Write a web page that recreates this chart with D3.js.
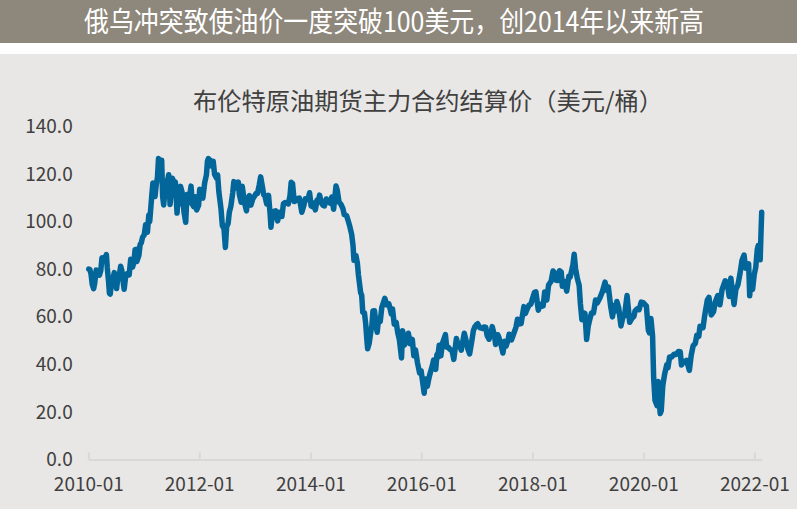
<!DOCTYPE html>
<html><head><meta charset="utf-8">
<script src="https://cdn.jsdelivr.net/npm/d3@7"></script>
<style>
html,body{margin:0;padding:0;background:#fff;}
svg{display:block;font-family:"Noto Sans CJK SC","Noto Sans",sans-serif;}
</style></head>
<body><svg id="c" width="797" height="509"></svg>
<script>
const headline = "俄乌冲突致使油价一度突破100美元，创2014年以来新高";
const chartTitle = "布伦特原油期货主力合约结算价（美元/桶）";
const yTicks = [0,20,40,60,80,100,120,140];
const xTickLabels = ["2010-01","2012-01","2014-01","2016-01","2018-01","2020-01","2022-01"];
const dates = [
"2010-01-04","2010-01-11","2010-01-19","2010-01-27","2010-02-05","2010-02-12","2010-02-22","2010-03-03","2010-03-15","2010-03-24",
"2010-04-01","2010-04-12","2010-04-21","2010-04-30","2010-05-06","2010-05-14","2010-05-20","2010-05-25","2010-06-02","2010-06-10",
"2010-06-21","2010-06-29","2010-07-06","2010-07-14","2010-07-22","2010-08-02","2010-08-10","2010-08-20","2010-08-25","2010-09-03",
"2010-09-14","2010-09-27","2010-10-07","2010-10-19","2010-10-28","2010-11-05","2010-11-11","2010-11-16","2010-11-30","2010-12-08",
"2010-12-16","2010-12-24","2011-01-04","2011-01-13","2011-01-25","2011-02-03","2011-02-09","2011-02-23","2011-03-02","2011-03-07",
"2011-03-16","2011-03-24","2011-04-01","2011-04-08","2011-04-18","2011-04-29","2011-05-05","2011-05-12","2011-05-19","2011-05-31",
"2011-06-08","2011-06-14","2011-06-23","2011-06-30","2011-07-08","2011-07-15","2011-07-28","2011-08-08","2011-08-10","2011-08-19",
"2011-08-31","2011-09-09","2011-09-23","2011-10-04","2011-10-12","2011-10-20","2011-10-28","2011-11-08","2011-11-17","2011-11-25",
"2011-12-06","2011-12-15","2011-12-28","2012-01-04","2012-01-13","2012-01-25","2012-02-06","2012-02-17","2012-02-24","2012-03-01",
"2012-03-13","2012-03-21","2012-04-02","2012-04-11","2012-04-24","2012-05-01","2012-05-09","2012-05-23","2012-06-01","2012-06-12",
"2012-06-21","2012-06-29","2012-07-09","2012-07-17","2012-07-27","2012-08-08","2012-08-16","2012-08-23","2012-09-04","2012-09-14",
"2012-09-21","2012-10-03","2012-10-10","2012-10-25","2012-11-07","2012-11-14","2012-11-26","2012-12-06","2012-12-18","2012-12-28",
"2013-01-09","2013-01-18","2013-01-30","2013-02-08","2013-02-20","2013-02-28","2013-03-08","2013-03-20","2013-04-01","2013-04-12",
"2013-04-17","2013-04-26","2013-05-08","2013-05-17","2013-05-31","2013-06-10","2013-06-20","2013-06-28","2013-07-08","2013-07-19",
"2013-07-30","2013-08-09","2013-08-20","2013-08-28","2013-09-06","2013-09-17","2013-09-26","2013-10-07","2013-10-21","2013-11-06",
"2013-11-20","2013-11-29","2013-12-09","2013-12-19","2013-12-27","2014-01-06","2014-01-13","2014-01-24","2014-02-03","2014-02-14",
"2014-02-25","2014-03-03","2014-03-14","2014-03-25","2014-04-04","2014-04-16","2014-04-29","2014-05-09","2014-05-22","2014-06-03",
"2014-06-19","2014-06-27","2014-07-09","2014-07-22","2014-08-04","2014-08-12","2014-08-28","2014-09-08","2014-09-18","2014-09-30",
"2014-10-09","2014-10-15","2014-10-28","2014-11-06","2014-11-13","2014-11-28","2014-12-05","2014-12-12","2014-12-23","2014-12-31",
"2015-01-07","2015-01-13","2015-01-23","2015-02-04","2015-02-10","2015-02-17","2015-02-27","2015-03-10","2015-03-17","2015-03-26",
"2015-04-06","2015-04-16","2015-05-06","2015-05-20","2015-06-02","2015-06-18","2015-06-26","2015-07-07","2015-07-20","2015-07-30",
"2015-08-10","2015-08-24","2015-08-31","2015-09-11","2015-09-22","2015-10-08","2015-10-20","2015-11-03","2015-11-13","2015-11-24",
"2015-12-07","2015-12-21","2015-12-31","2016-01-08","2016-01-20","2016-01-28","2016-02-10","2016-02-22","2016-03-03","2016-03-14",
"2016-03-22","2016-04-05","2016-04-13","2016-04-18","2016-04-28","2016-05-09","2016-05-19","2016-06-08","2016-06-16","2016-06-27",
"2016-07-07","2016-07-22","2016-08-02","2016-08-19","2016-08-30","2016-09-09","2016-09-20","2016-09-29","2016-10-10","2016-10-24",
"2016-11-03","2016-11-14","2016-11-30","2016-12-09","2016-12-19","2016-12-30","2017-01-06","2017-01-20","2017-02-07","2017-02-16",
"2017-02-28","2017-03-09","2017-03-22","2017-04-03","2017-04-12","2017-04-28","2017-05-04","2017-05-18","2017-05-25","2017-06-09",
"2017-06-21","2017-07-03","2017-07-12","2017-07-25","2017-08-01","2017-08-17","2017-08-31","2017-09-15","2017-09-25","2017-10-05",
"2017-10-19","2017-10-27","2017-11-06","2017-11-16","2017-11-30","2017-12-11","2017-12-22","2018-01-04","2018-01-15","2018-01-24",
"2018-02-09","2018-02-21","2018-03-02","2018-03-13","2018-03-23","2018-04-06","2018-04-18","2018-05-04","2018-05-17","2018-05-24",
"2018-06-05","2018-06-18","2018-06-29","2018-07-10","2018-07-17","2018-07-30","2018-08-15","2018-08-29","2018-09-07","2018-09-25",
"2018-10-03","2018-10-12","2018-10-23","2018-11-05","2018-11-13","2018-11-23","2018-12-03","2018-12-13","2018-12-24","2019-01-03",
"2019-01-14","2019-01-25","2019-02-07","2019-02-21","2019-03-05","2019-03-21","2019-04-05","2019-04-24","2019-05-06","2019-05-16",
"2019-05-31","2019-06-12","2019-06-24","2019-07-02","2019-07-11","2019-07-23","2019-08-07","2019-08-20","2019-08-30","2019-09-16",
"2019-09-27","2019-10-03","2019-10-18","2019-10-31","2019-11-08","2019-11-22","2019-12-04","2019-12-18","2019-12-31","2020-01-08",
"2020-01-21","2020-02-03","2020-02-10","2020-02-20","2020-03-02","2020-03-09","2020-03-18","2020-03-31","2020-04-08","2020-04-21",
"2020-04-28","2020-05-08","2020-05-20","2020-06-03","2020-06-11","2020-06-22","2020-07-06","2020-07-21","2020-08-03","2020-08-19",
"2020-08-31","2020-09-08","2020-09-21","2020-10-01","2020-10-12","2020-10-30","2020-11-11","2020-11-24","2020-12-08","2020-12-18",
"2020-12-31","2021-01-08","2021-01-28","2021-02-08","2021-02-25","2021-03-08","2021-03-23","2021-04-07","2021-04-20","2021-05-05",
"2021-05-19","2021-06-02","2021-06-23","2021-07-06","2021-07-19","2021-07-30","2021-08-20","2021-09-01","2021-09-15","2021-09-28",
"2021-10-11","2021-10-25","2021-11-04","2021-11-24","2021-12-01","2021-12-08","2021-12-20","2021-12-31","2022-01-10","2022-01-20",
"2022-01-26","2022-02-02","2022-02-08","2022-02-14","2022-02-18"];
const prices = [
80.1,80.0,78.0,73.7,71.9,74.1,79.7,79.3,77.5,79.4,
84.9,84.3,84.7,86.2,80.6,75.2,69.9,69.6,73.8,75.5,
78.6,74.9,71.9,76.4,76.8,81.3,79.4,73.9,71.6,76.6,
78.2,77.7,84.2,80.9,82.9,88.3,88.4,83.3,85.9,90.4,
91.2,93.5,94.5,98.7,95.6,102.8,100.1,111.3,116.3,113.8,
110.6,115.6,118.7,126.6,121.6,125.9,110.8,107.1,112.4,116.7,
117.9,119.8,107.3,112.5,118.3,117.2,116.7,103.7,106.0,108.6,
114.9,112.8,104.0,99.8,111.5,107.9,109.9,115.0,107.4,106.4,
110.5,105.0,107.0,113.7,110.4,110.0,116.5,119.6,125.5,126.6,
125.9,123.5,125.4,119.9,118.4,119.7,112.7,105.6,98.4,97.1,
89.2,97.8,99.3,104.0,106.5,112.1,116.9,115.3,114.2,116.7,
111.4,108.2,114.9,108.0,104.6,109.6,111.0,107.0,109.6,110.6,
111.9,111.9,115.6,118.9,114.6,111.4,110.9,107.5,111.1,102.8,
97.7,103.2,104.5,104.6,100.4,104.0,102.2,102.2,107.6,108.1,
107.9,107.5,110.9,116.6,116.1,108.5,108.8,109.7,110.0,104.0,
107.1,109.7,109.4,110.1,112.2,106.7,106.4,107.9,105.0,109.1,
109.5,111.2,108.0,106.9,106.7,109.6,108.6,107.9,110.4,105.3,
115.1,113.3,108.3,107.3,105.4,103.0,102.5,100.2,98.0,94.7,
90.0,83.8,85.8,82.9,77.9,70.2,69.1,61.9,61.7,57.3,
51.2,46.6,48.8,54.2,56.4,62.5,62.6,56.4,53.5,59.2,
58.1,63.9,67.8,65.0,65.5,61.2,63.3,56.9,57.7,53.4,
50.4,42.7,54.2,48.1,49.1,53.1,48.7,50.5,43.6,46.1,
40.7,36.4,37.3,33.6,27.9,33.9,30.8,34.7,37.1,39.5,
41.8,37.9,44.2,42.9,48.1,43.6,48.8,52.5,47.2,47.2,
46.4,45.7,42.1,50.9,48.4,48.0,46.0,49.2,53.1,49.5,
46.4,44.4,50.5,54.3,55.9,56.8,57.1,55.5,55.1,55.7,
55.6,52.2,50.6,53.1,55.9,51.7,48.4,52.5,51.5,48.2,
44.8,49.7,47.7,50.2,52.7,50.3,52.9,55.6,59.0,57.0,
57.2,60.4,64.3,61.4,63.6,65.0,65.3,68.1,70.3,70.5,
62.8,65.4,64.4,64.6,70.5,67.1,73.5,74.9,79.3,78.8,
75.4,75.3,79.4,78.9,72.9,75.0,70.8,77.1,76.8,81.9,
86.3,80.4,76.4,73.2,65.5,58.8,61.7,61.5,50.5,55.9,
59.0,61.6,61.6,67.1,65.9,67.9,70.3,74.6,71.2,72.6,
64.5,60.0,64.9,62.4,66.5,63.8,56.2,60.0,60.4,69.0,
61.9,57.7,59.4,60.2,62.5,63.4,63.0,66.2,66.0,65.4,
64.6,54.5,53.3,59.3,51.9,34.4,24.9,22.7,32.8,19.3,
20.5,31.0,35.8,39.8,38.6,43.1,43.1,44.3,44.2,45.4,
45.3,39.8,41.4,40.9,41.7,37.5,43.8,47.9,48.8,52.3,
51.8,56.0,55.5,60.6,67.0,68.2,60.8,62.2,66.6,69.0,
65.1,71.4,75.2,74.5,68.6,76.3,65.2,71.6,73.6,78.1,
83.7,86.0,80.5,82.3,68.9,75.8,71.5,77.8,80.9,88.4,
90.0,89.2,84.0,96.5,104.0];

const W = 797, H = 509;
const svg = d3.select("#c");
const parse = d3.timeParse("%Y-%m-%d");
const data = dates.map((d,i)=>({date:parse(d), value:prices[i]}));
const FONT = '"Noto Sans CJK SC","Noto Sans",sans-serif';

// background
svg.append("rect").attr("x",0).attr("y",0).attr("width",W).attr("height",H).attr("fill","#ffffff");
svg.append("rect").attr("x",0).attr("y",0).attr("width",W).attr("height",43).attr("fill","#8e877b");
svg.append("rect").attr("x",0).attr("y",54).attr("width",W).attr("height",H-54).attr("fill","#e8e7e5");

svg.append("text").attr("x",394).attr("y",32).attr("text-anchor","middle")
  .attr("font-size",28).attr("fill","#ffffff")
  .attr("textLength",620).attr("lengthAdjust","spacingAndGlyphs")
  .text(headline);

svg.append("text").attr("x",428).attr("y",110).attr("text-anchor","middle")
  .attr("font-size",24).attr("fill","#404040")
  .attr("textLength",470).attr("lengthAdjust","spacingAndGlyphs")
  .text(chartTitle);

const x = d3.scaleTime()
  .domain([parse("2010-01-01"), data[data.length-1].date])
  .range([88.3, 761.7]);
const y = d3.scaleLinear().domain([0,140]).range([459.5,126.7]);

// x axis
const tickDates = xTickLabels.map(s=>d3.timeParse("%Y-%m")(s));
const xAxis = d3.axisBottom(x).tickValues(tickDates).tickSize(-7).tickSizeOuter(0)
  .tickFormat((d,i)=>xTickLabels[i]).tickPadding(0);
const gx = svg.append("g").attr("transform","translate(0,459.5)").call(xAxis);
gx.select(".domain").attr("stroke","#d8d8d6").attr("stroke-width",2);
gx.selectAll(".tick line").attr("stroke","#d8d8d6").attr("stroke-width",2);
gx.selectAll(".tick text").attr("font-size",19).attr("fill","#404040")
  .attr("font-family",FONT)
  .attr("y",18).attr("dy","0.71em");

// y axis
const yAxis = d3.axisLeft(y).tickValues(yTicks).tickSize(0).tickFormat(d3.format(".1f"));
const gy = svg.append("g").attr("transform","translate(72.7,0)").call(yAxis);
gy.select(".domain").remove();
gy.selectAll(".tick text").attr("font-size",19).attr("fill","#404040").attr("x",0)
  .attr("font-family",FONT);

// line
const line = d3.line().x(d=>x(d.date)).y(d=>y(d.value));
svg.append("path").datum(data).attr("d",line).attr("fill","none")
  .attr("stroke","#02669b").attr("stroke-width",5.5)
  .attr("stroke-linejoin","round").attr("stroke-linecap","round");
</script></body></html>
